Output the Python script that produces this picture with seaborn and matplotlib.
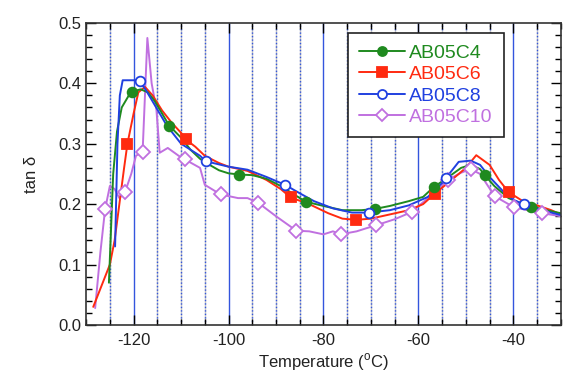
import numpy as np
import pandas as pd
import matplotlib
matplotlib.use("Agg")
import matplotlib.pyplot as plt
from matplotlib.lines import Line2D
from matplotlib.ticker import MultipleLocator
import seaborn as sns

# ---- data ----
c4_T = [-125.2, -124.8, -124.3, -123.5, -122.5, -121, -120, -118.5, -117, -115.5, -114, -112.5, -110, -108, -106,
        -104, -102, -100, -97.7, -95, -92, -89, -86, -83.7, -80, -76, -72, -69.2, -66, -62, -59, -56.8, -54, -51,
        -49, -47, -46, -44, -41, -38, -36.2, -33, -30]
c4_v = [0.07, 0.15, 0.25, 0.32, 0.36, 0.38, 0.387, 0.39, 0.385, 0.37, 0.35, 0.33, 0.31, 0.29, 0.275,
        0.265, 0.256, 0.251, 0.249, 0.248, 0.242, 0.23, 0.215, 0.204, 0.197, 0.19, 0.19, 0.192, 0.197, 0.205, 0.212,
        0.228, 0.243, 0.26, 0.265, 0.258, 0.248, 0.23, 0.21, 0.2, 0.196, 0.19, 0.185]
c4_mT = [-120.4, -112.5, -97.7, -83.7, -69.2, -56.8, -46.0, -36.2]
c4_mv = [0.385, 0.330, 0.249, 0.204, 0.192, 0.228, 0.248, 0.196]

c6_T = [-128.5, -127.5, -126, -125, -124, -123, -122, -121.3, -120, -119, -117.6, -116, -114, -112, -110, -109,
        -107, -105, -102, -100, -96, -92, -89, -86.9, -83, -79, -76, -73.1, -70, -66, -62, -59, -56.6, -53, -50,
        -47.8, -45, -43, -41, -38, -35, -32, -30]
c6_v = [0.03, 0.05, 0.08, 0.1, 0.14, 0.2, 0.26, 0.30, 0.35, 0.385, 0.394, 0.38, 0.355, 0.335, 0.318, 0.307,
        0.295, 0.28, 0.268, 0.262, 0.255, 0.24, 0.225, 0.211, 0.2, 0.185, 0.176, 0.174, 0.176, 0.183, 0.19, 0.2,
        0.217, 0.24, 0.26, 0.281, 0.265, 0.24, 0.22, 0.205, 0.198, 0.19, 0.183]
c6_mT = [-121.3, -109.0, -86.9, -73.1, -56.6, -41.0]
c6_mv = [0.300, 0.307, 0.211, 0.174, 0.217, 0.220]

c8_T = [-123.9, -123.4, -122.9, -122.3, -121, -119.5, -118.7, -117.5, -116, -114.5, -113, -110, -106, -104.8,
        -100, -96, -92, -88.1, -85, -82, -78, -74, -70.5, -66, -62, -58, -55, -53, -51.5, -49, -47, -45, -42, -40,
        -37.8, -34, -30]
c8_v = [0.13, 0.30, 0.38, 0.405, 0.405, 0.405, 0.403, 0.39, 0.37, 0.35, 0.33, 0.30, 0.28, 0.271,
        0.262, 0.257, 0.245, 0.232, 0.218, 0.205, 0.193, 0.186, 0.186, 0.19, 0.198, 0.212, 0.235, 0.255, 0.27,
        0.272, 0.265, 0.245, 0.22, 0.207, 0.2, 0.19, 0.182]
c8_mT = [-118.7, -104.8, -88.1, -70.5, -54.2, -37.8]
c8_mv = [0.403, 0.271, 0.232, 0.186, 0.244, 0.200]

c10_T = [-128.1, -127, -126.0, -125, -124, -123, -121.8, -120.5, -119.5, -118.1, -117.1, -116.2, -115.2, -114.5,
         -112.8, -110.5, -109.2, -106, -105, -102.5, -101.6, -98, -96, -93.7, -90, -85.7, -83, -80, -78, -76.4,
         -73, -71, -68.9, -65, -61.4, -58, -53.8, -51, -49.0, -47, -43.9, -39.9, -37, -33.9, -30]
c10_v = [0.028, 0.12, 0.192, 0.23, 0.225, 0.21, 0.22, 0.25, 0.28, 0.287, 0.475, 0.40, 0.357, 0.285,
         0.293, 0.28, 0.274, 0.26, 0.232, 0.22, 0.216, 0.21, 0.21, 0.202, 0.18, 0.156, 0.155, 0.15, 0.155, 0.150,
         0.155, 0.16, 0.165, 0.175, 0.187, 0.21, 0.240, 0.252, 0.258, 0.25, 0.213, 0.195, 0.19, 0.185, 0.18]
c10_mT = [-126.0, -121.8, -118.1, -109.2, -101.6, -93.7, -85.7, -76.4, -68.9, -61.4, -53.8, -49.0, -43.9,
          -39.9, -33.9]
c10_mv = [0.192, 0.220, 0.287, 0.274, 0.216, 0.202, 0.156, 0.150, 0.165, 0.187, 0.240, 0.258, 0.213,
          0.195, 0.185]

names = ["AB05C4", "AB05C6", "AB05C8", "AB05C10"]
x_ticks = [-120, -100, -80, -60, -40]
y_ticks = [0.0, 0.1, 0.2, 0.3, 0.4, 0.5]

# ---- styling ----
sns.set_theme(style="white")
plt.rcParams['font.family'] = ['Liberation Sans', 'DejaVu Sans']
plt.rcParams['mathtext.fontset'] = 'custom'
plt.rcParams['mathtext.rm'] = 'Liberation Sans'

colors = {"AB05C4": "#1f8a1f", "AB05C6": "#ff2a10", "AB05C8": "#2040e0", "AB05C10": "#c070e0"}
mstyle = {
    "AB05C4": dict(marker="o", mfc="#1f8a1f", ms=7),
    "AB05C6": dict(marker="s", mfc="#ff2a10", ms=7),
    "AB05C8": dict(marker="o", mfc="white", ms=7),
    "AB05C10": dict(marker="D", mfc="white", ms=7),
}

fig = plt.figure(figsize=(5.63, 3.81), dpi=100)
ax = fig.add_axes([0.153, 0.147, 0.843, 0.793])

# vertical grid lines
for t in np.arange(-125, -30, 5):
    if t % 20 == 0:
        ax.axvline(t, color="#3355dd", lw=1.0, zorder=0)
    else:
        ax.axvline(t, color="#c4c4c4", lw=1.0, zorder=0)
        ax.axvline(t, color="#3355dd", lw=1.0, ls=(0, (1, 1.5)), zorder=0)

lines_df = pd.concat([
    pd.DataFrame({"T": c4_T, "v": c4_v, "s": "AB05C4"}),
    pd.DataFrame({"T": c6_T, "v": c6_v, "s": "AB05C6"}),
    pd.DataFrame({"T": c8_T, "v": c8_v, "s": "AB05C8"}),
    pd.DataFrame({"T": c10_T, "v": c10_v, "s": "AB05C10"}),
])
marks = {
    "AB05C4": (c4_mT, c4_mv), "AB05C6": (c6_mT, c6_mv),
    "AB05C8": (c8_mT, c8_mv), "AB05C10": (c10_mT, c10_mv),
}

order_draw = ["AB05C10", "AB05C6", "AB05C4", "AB05C8"]
for n in order_draw:
    d = lines_df[lines_df["s"] == n]
    sns.lineplot(data=d, x="T", y="v", ax=ax, color=colors[n], lw=1.4, sort=False,
                 estimator=None, legend=False, zorder=2)
for n in order_draw:
    mT, mv = marks[n]
    st = mstyle[n]
    ax.plot(mT, mv, ls="none", marker=st["marker"], ms=st["ms"], mfc=st["mfc"],
            mec=colors[n], mew=1.3, zorder=3)

ax.set_xlim(-130, -30)
ax.set_ylim(0, 0.5)
ax.set_xticks(x_ticks)
ax.set_xticklabels([str(t) for t in x_ticks])
ax.set_yticks(y_ticks)
ax.set_yticklabels([f"{t:.1f}" for t in y_ticks])
ax.xaxis.set_minor_locator(MultipleLocator(5))
ax.yaxis.set_minor_locator(MultipleLocator(0.02))
ax.tick_params(which="both", direction="in", top=True, right=True, bottom=True, left=True,
               color="black", labelsize=12, colors="#222222")
ax.tick_params(which="major", length=7, width=1)
ax.tick_params(which="minor", length=4, width=1)
ax.tick_params(axis="x", pad=6)
for sp in ax.spines.values():
    sp.set_color("#333333")
    sp.set_linewidth(1.2)

ax.set_xlabel("Temperature ($^{\\mathrm{o}}$C)", fontsize=12, color="#222222", labelpad=2)
ax.set_ylabel("tan δ", fontsize=12, color="#222222", labelpad=14)

handles = []
for n in names:
    st = mstyle[n]
    handles.append(Line2D([0], [0], color=colors[n], lw=1.4, marker=st["marker"], ms=6.5,
                          mfc=st["mfc"], mec=colors[n], mew=1.3))
leg = ax.legend(handles, names, loc="upper left", bbox_to_anchor=(0.552, 0.965), fontsize=14,
                frameon=True, fancybox=False, edgecolor="#222222", framealpha=1, handlelength=2.4,
                handletextpad=0.2, borderpad=0.55, labelspacing=0.2, borderaxespad=0)
leg.get_frame().set_linewidth(1.2)
for t, n in zip(leg.get_texts(), names):
    t.set_color(colors[n])

fig.savefig("out.png", dpi=100)
